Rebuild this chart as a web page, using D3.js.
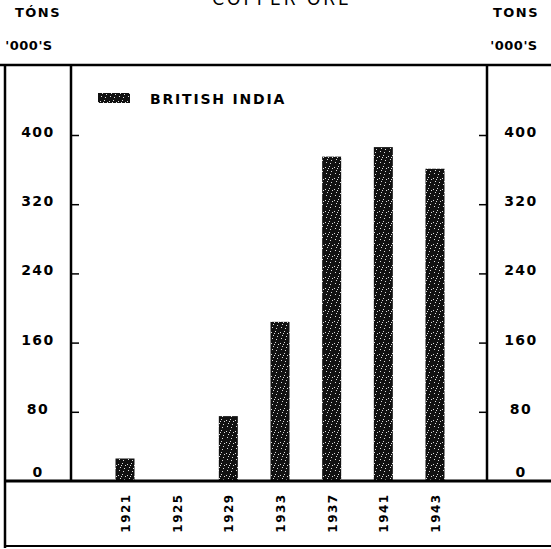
<!DOCTYPE html>
<html><head><meta charset="utf-8">
<script src="https://cdn.jsdelivr.net/npm/d3@7/dist/d3.min.js"></script>
<style>
html,body{margin:0;padding:0;background:#fff;}
svg{display:block;}
text{font-family:"DejaVu Sans",sans-serif;fill:#000;}
</style></head>
<body>
<script>
const title = "COPPER ORE";
const unitLines = ["TÓNS", "'000'S"];
const unitLinesRight = ["TONS", "'000'S"];
const seriesName = "BRITISH INDIA";
const years = ["1921","1925","1929","1933","1937","1941","1943"];
const values = [26, 0, 75, 184, 375, 386, 361];
const yTicks = [0, 80, 160, 240, 320, 400];

const W = 551, H = 549;
const svg = d3.select("body").append("svg").attr("width", W).attr("height", H);

// stipple pattern
const defs = svg.append("defs");
const pat = defs.append("pattern").attr("id","stip").attr("patternUnits","userSpaceOnUse")
  .attr("width",9).attr("height",11);
pat.append("rect").attr("width",9).attr("height",11).attr("fill","#111");
const specks = [[1,2],[5,1],[3,5],[7,6],[2,8],[6,9],[4,3],[8,3]];
specks.forEach(([a,b])=>pat.append("rect").attr("x",a).attr("y",b).attr("width",1).attr("height",1).attr("fill","#ddd"));

const y = d3.scaleLinear().domain([0,400]).range([481,135]);
const x = d3.scalePoint().domain(years).range([125,435]);
const barW = 19;

// frame
const lw = 2.5;
svg.append("line").attr("x1",0).attr("x2",W).attr("y1",65).attr("y2",65).attr("stroke","#000").attr("stroke-width",lw);
svg.append("line").attr("x1",5).attr("x2",5).attr("y1",64).attr("y2",548).attr("stroke","#000").attr("stroke-width",lw);
svg.append("line").attr("x1",71).attr("x2",71).attr("y1",64).attr("y2",481).attr("stroke","#000").attr("stroke-width",lw);
svg.append("line").attr("x1",487).attr("x2",487).attr("y1",64).attr("y2",481).attr("stroke","#000").attr("stroke-width",lw);
svg.append("line").attr("x1",4).attr("x2",W).attr("y1",546).attr("y2",546).attr("stroke","#000").attr("stroke-width",2);

// bars
svg.selectAll("rect.bar").data(years.map((d,i)=>({year:d,v:values[i]})).filter(d=>d.v>0))
  .enter().append("rect").attr("class","bar")
  .attr("x",d=>x(d.year)-barW/2).attr("width",barW)
  .attr("y",d=>y(d.v)).attr("height",d=>y(0)-y(d.v))
  .attr("fill","url(#stip)");

// baseline
svg.append("line").attr("x1",4).attr("x2",W).attr("y1",481).attr("y2",481).attr("stroke","#000").attr("stroke-width",3);

// axes ticks
const tickVals = yTicks.filter(t=>t>0);
const axL = svg.append("g").attr("transform","translate(71,0)")
  .call(d3.axisRight(y).tickValues(tickVals).tickSize(8).tickFormat(""));
axL.select(".domain").remove();
axL.selectAll(".tick line").attr("stroke","#000").attr("stroke-width",1.5);
const axR = svg.append("g").attr("transform","translate(487,0)")
  .call(d3.axisLeft(y).tickValues(tickVals).tickSize(8).tickFormat(""));
axR.select(".domain").remove();
axR.selectAll(".tick line").attr("stroke","#000").attr("stroke-width",1.5);

// tick labels
const tl = {"font-size":"14px","font-weight":"bold","letter-spacing":"1.5px","text-anchor":"middle"};
function styl(s,o){for(const k in o) s.style(k,o[k]); return s;}
styl(svg.append("g").selectAll("text").data(yTicks).enter().append("text")
  .attr("x",38).attr("y",d=>d===0? y(d)-4 : y(d)+2).text(d=>d), tl);
styl(svg.append("g").selectAll("text").data(yTicks).enter().append("text")
  .attr("x",521).attr("y",d=>d===0? y(d)-4 : y(d)+2).text(d=>d), tl);

// units
const ul = {"font-size":"13px","font-weight":"bold","letter-spacing":"1.5px","text-anchor":"middle"};
const ul2 = {"font-size":"13px","font-weight":"bold","letter-spacing":"0.5px","text-anchor":"middle"};
styl(svg.append("text").attr("x",38).attr("y",17).text(unitLines[0]), ul);
styl(svg.append("text").attr("x",29).attr("y",50).text(unitLines[1]), ul2);
styl(svg.append("text").attr("x",516).attr("y",17).text(unitLinesRight[0]), ul);
styl(svg.append("text").attr("x",514).attr("y",50).text(unitLinesRight[1]), ul2);

// title
styl(svg.append("text").attr("x",282).attr("y",5).text(title),
  {"font-size":"17px","letter-spacing":"3px","text-anchor":"middle"});

// legend
svg.append("rect").attr("x",98).attr("y",93).attr("width",32).attr("height",10).attr("fill","url(#stip)");
styl(svg.append("text").attr("x",150).attr("y",104).text(seriesName),
  {"font-size":"14px","font-weight":"bold","letter-spacing":"1.8px"});

// x labels
styl(svg.append("g").selectAll("text").data(years).enter().append("text")
  .attr("transform",d=>`translate(${x(d)+5},513) rotate(-90)`).text(d=>d),
  {"font-size":"12px","font-weight":"bold","letter-spacing":"1.5px","text-anchor":"middle"});
</script>
</body></html>
